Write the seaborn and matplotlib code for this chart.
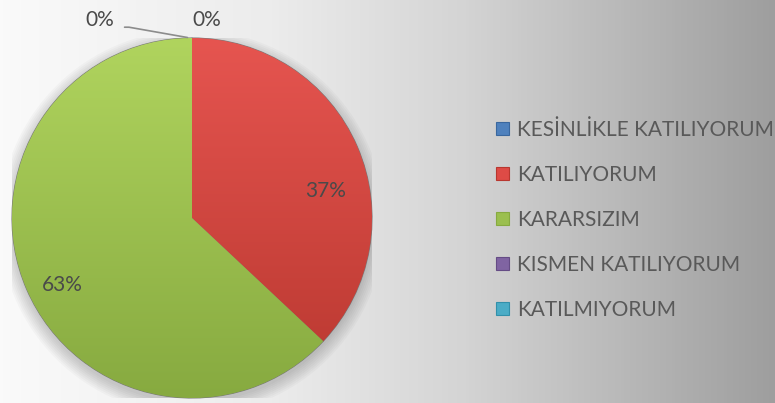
import numpy as np
import matplotlib
matplotlib.use("Agg")
import matplotlib.pyplot as plt
import seaborn as sns
from matplotlib.patches import Patch
from matplotlib.colors import LinearSegmentedColormap

# data
categories = ["KESİNLİKLE KATILIYORUM", "KATILIYORUM", "KARARSIZIM",
              "KISMEN KATILIYORUM", "KATILMIYORUM"]
shares = [0, 37, 63, 0, 0]
colors = ["#4F81BD", "#DE4B46", "#9BBF4F", "#8064A2", "#4BACC6"]
top_colors = ["#6F9BD4", "#E65550", "#B0D45E", "#9A80BC", "#6CC4DA"]
bottom_colors = ["#3A679E", "#B8372F", "#87AA40", "#654C85", "#3290AA"]

sns.set_theme(style="white")
plt.rcParams["font.family"] = ["Lato", "DejaVu Sans"]
text_color = "#595959"
pct_color = "#4a4a4a"

fig = plt.figure(figsize=(7.75, 4.03), dpi=100)

# background gradient, light on the left, grey on the right
bg = fig.add_axes([0, 0, 1, 1], zorder=0)
bg_cmap = LinearSegmentedColormap.from_list(
    "bg", [(0, "#fafafa"), (0.35, "#ececec"), (0.6, "#d4d4d4"), (1, "#9e9e9e")])
bg.imshow(np.linspace(0, 1, 256)[None, :], cmap=bg_cmap, aspect="auto",
          extent=(0, 1, 0, 1))
bg.set_axis_off()

# pie axes: centre ~(192, 218) px, radius ~180 px
W, H = 775, 403
cx, cy, r = 192, 218, 180
ax = fig.add_axes([(cx - r) / W, (H - cy - r) / H, 2 * r / W, 2 * r / H], zorder=1)
ax.set_facecolor("none")

# soft shadow under the pie
for k in range(8):
    ax.add_patch(plt.Circle((0.0, -0.025), 1.0 + 0.01 * k, color="#000000",
                            alpha=0.025, lw=0, zorder=0))

wedges, texts, autotexts = ax.pie(
    shares, colors=colors, startangle=90, counterclock=False,
    autopct="%.0f%%", pctdistance=0.8, radius=1.0,
    wedgeprops=dict(linewidth=0.8, edgecolor="#7a7a7a"),
    textprops=dict(color=pct_color, fontsize=15))

# vertical gradient fill clipped to each wedge
grad = np.linspace(1, 0, 256)[:, None]
for w, c0, c1, v in zip(wedges, top_colors, bottom_colors, shares):
    if v == 0:
        continue
    cmap = LinearSegmentedColormap.from_list("w", [c1, c0])
    im = ax.imshow(grad, cmap=cmap, extent=(-1, 1, -1, 1), aspect="auto",
                   origin="upper", zorder=1.5)
    im.set_clip_path(w)

# label placement like the original
autotexts[1].set_position((0.74, 0.15))
autotexts[2].set_position((-0.72, -0.37))
autotexts[0].set_position((0.08, 1.10))
autotexts[3].set_position((-0.51, 1.10))
autotexts[4].set_visible(False)
for t in autotexts:
    t.set_zorder(5)
ax.annotate("", xy=(-0.01, 1.0), xytext=(-0.39, 1.06),
            arrowprops=dict(arrowstyle="-", color="#8c8c8c", lw=1.2,
                            connectionstyle="angle,angleA=0,angleB=170,rad=0"),
            annotation_clip=False)

ax.set_xlim(-1, 1)
ax.set_ylim(-1, 1)
ax.set_aspect("auto")
ax.set_axis_off()
ax.patch.set_visible(False)

# legend
handles = [Patch(facecolor=c, edgecolor=e, linewidth=0.8)
           for c, e in zip(colors, bottom_colors)]
fig.legend(handles, categories, loc="upper left",
           bbox_to_anchor=(496 / W, 1 - 120 / H), frameon=False,
           fontsize=15, labelcolor=text_color, handlelength=0.6,
           handleheight=0.6, handletextpad=0.42, labelspacing=1.2,
           borderaxespad=0, borderpad=0)

fig.savefig("out.png", dpi=100)
